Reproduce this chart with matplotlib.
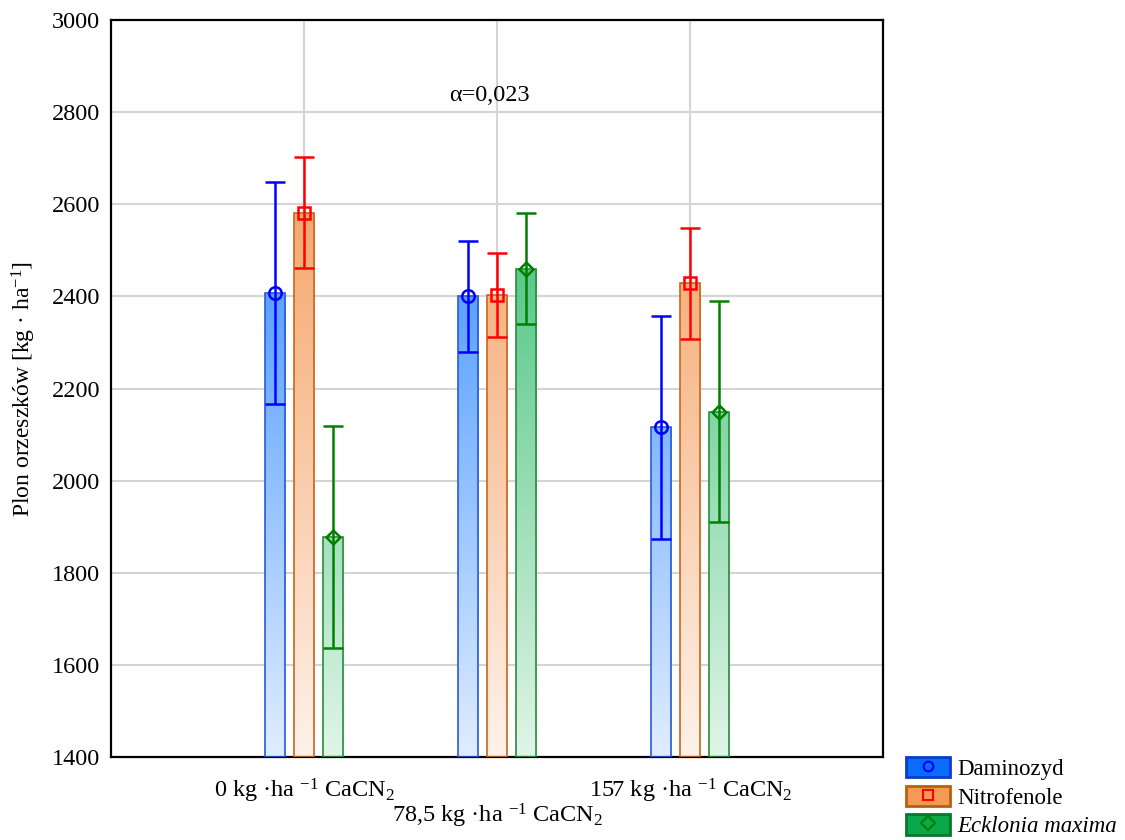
import numpy as np
import matplotlib.pyplot as plt
from matplotlib.patches import Patch
from matplotlib.lines import Line2D
from matplotlib.colors import LinearSegmentedColormap

plt.rcParams['font.family'] = ['Liberation Serif', 'DejaVu Serif']
plt.rcParams['mathtext.fontset'] = 'custom'
plt.rcParams['mathtext.rm'] = 'Liberation Serif'
plt.rcParams['mathtext.it'] = 'Liberation Serif:italic'

# data
groups = ["0 kg ·ha $^{\\mathrm{-1}}$ CaCN$_2$",
          "\n78,5 kg ·ha $^{\\mathrm{-1}}$ CaCN$_2$",
          "157 kg ·ha $^{\\mathrm{-1}}$ CaCN$_2$"]
series = ["Daminozyd", "Nitrofenole", "Ecklonia maxima"]
daminozyd = [2408, 2400, 2116]
daminozyd_err = [241, 120, 242]
nitrofenole = [2582, 2403, 2428]
nitrofenole_err = [120, 91, 120]
ecklonia = [1878, 2460, 2150]
ecklonia_err = [241, 120, 240]

means = [daminozyd, nitrofenole, ecklonia]
errs = [daminozyd_err, nitrofenole_err, ecklonia_err]

# styling
grad_top = [(0.24, 0.57, 1.0), (0.96, 0.65, 0.42), (0.27, 0.76, 0.48)]
grad_bot = [(0.88, 0.93, 1.0), (1.0, 0.95, 0.92), (0.88, 0.96, 0.91)]
bar_edge = ['#2a5ad8', '#c8661a', '#2a8c3a']
err_col = ['#0000ff', '#ff0000', '#008000']
markers = ['o', 's', 'D']
msizes = [9, 9, 7.5]
leg_face = ['#0a6cff', '#f59a55', '#0aa84a']
leg_edge = ['#0a3cc8', '#b8600f', '#08782e']

offsets = [-0.15, 0, 0.15]
width = 0.104
ymin, ymax = 1400, 3000
fs = 17.5

fig = plt.figure(figsize=(11.25, 8.4), dpi=100)
ax = fig.add_axes([0.0987, 0.0988, 0.6866, 0.8774])

x = np.arange(len(groups))
grad = np.linspace(0, 1, 256).reshape(-1, 1)
for i in range(3):
    cmap = LinearSegmentedColormap.from_list('g%d' % i, [grad_bot[i], grad_top[i]])
    xs = x + offsets[i]
    bars = ax.bar(xs, np.array(means[i]) - ymin, bottom=ymin, width=width,
                  facecolor='none', edgecolor=bar_edge[i], linewidth=1.2, zorder=3)
    for b in bars:
        im = ax.imshow(grad, extent=[b.get_x(), b.get_x() + width, ymin, 2620],
                       origin='lower', cmap=cmap, aspect='auto', zorder=2,
                       interpolation='bilinear')
        im.set_clip_path(b)
    ax.errorbar(xs, means[i], yerr=errs[i], fmt='none', ecolor=err_col[i],
                elinewidth=1.8, capsize=7, capthick=1.8, zorder=4)
    ax.plot(xs, means[i], linestyle='none', marker=markers[i], ms=msizes[i],
            mfc='none', mec=err_col[i], mew=1.8, zorder=5)

ax.set_xlim(-1, 3)
ax.set_ylim(ymin, ymax)
ax.set_yticks(np.arange(1400, 3001, 200))
ax.set_xticks(x)
ax.set_xticklabels(groups, fontsize=fs)
ax.tick_params(axis='x', direction='in', length=4, width=1.2, pad=14)
ax.tick_params(axis='y', length=0, labelsize=fs, pad=8)
ax.grid(True, color='#d4d4d4', linewidth=1.5, zorder=0)
ax.set_axisbelow(True)
for s in ax.spines.values():
    s.set_linewidth(1.6)

ax.set_ylabel("Plon orzeszków [kg · ha$^{\\mathrm{-1}}$]", fontsize=17, labelpad=10)
ax.text(0.96, 2835, "α=0,023", ha='center', va='center', fontsize=fs)

handles = []
for i in range(3):
    handles.append((Patch(facecolor=leg_face[i], edgecolor=leg_edge[i], linewidth=2),
                    Line2D([], [], linestyle='none', marker=markers[i], ms=7,
                           mfc='none', mec=err_col[i], mew=1.5)))
leg = fig.legend(handles, series, loc='lower left', bbox_to_anchor=(0.805, 0.003),
                 frameon=False, fontsize=16.5, handlelength=1.95, handleheight=1.0,
                 handletextpad=0.3, labelspacing=0.25, borderaxespad=0, borderpad=0)
leg.get_texts()[2].set_fontstyle('italic')

fig.savefig("out.png", dpi=100)
